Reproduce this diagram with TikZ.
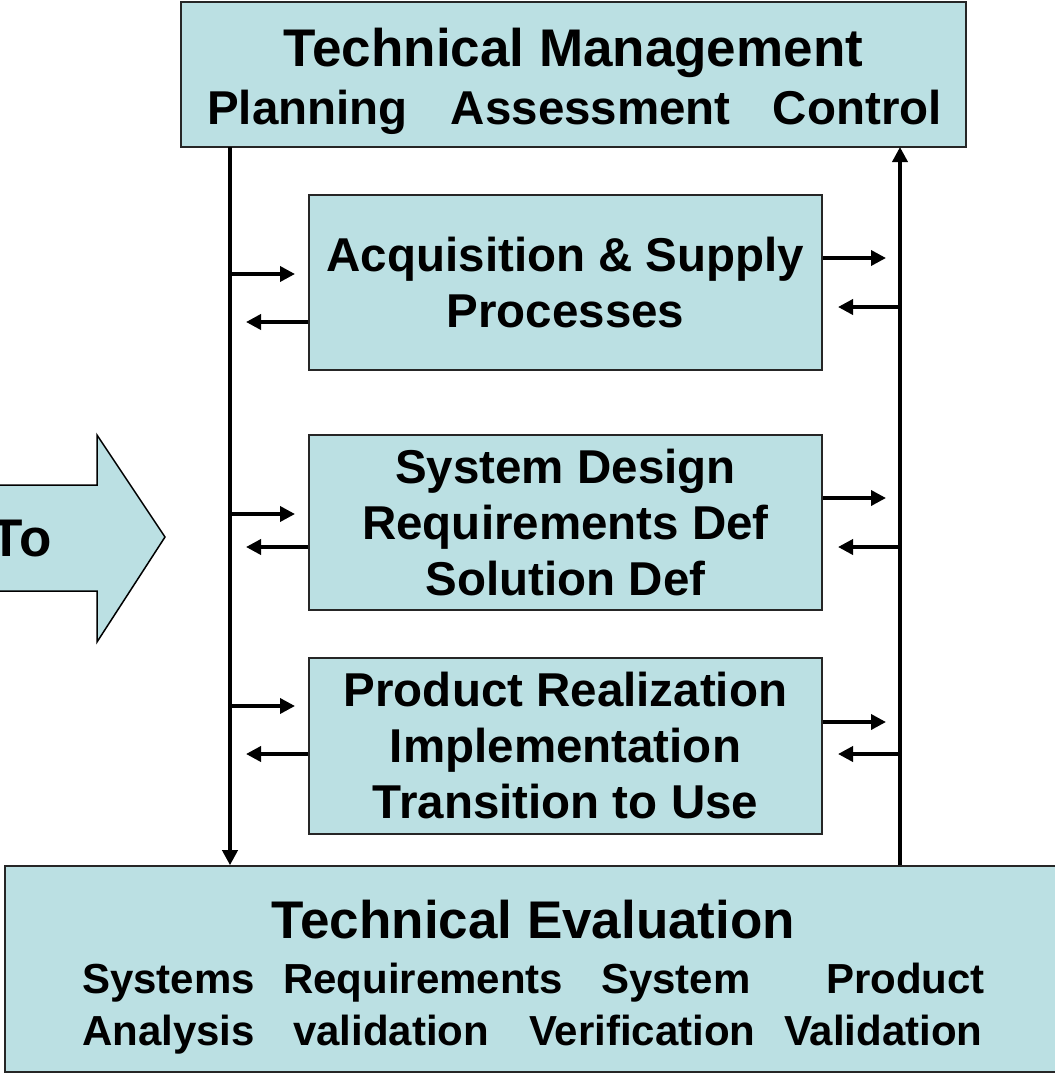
\documentclass[tikz,border=0pt]{standalone}
\usepackage{fontspec}
\setmainfont{Liberation Sans}
\usetikzlibrary{arrows.meta}
\definecolor{boxfill}{HTML}{BBE0E3}
\begin{document}
\begin{tikzpicture}[x=1pt,y=-1pt,
  box/.style={draw=black!85,line width=1.6pt,fill=boxfill,inner sep=0pt},
  proc/.style={box,minimum width=513pt,font=\bfseries\fontsize{47.5}{56}\selectfont,align=center},
  conn/.style={line width=3.6pt,-{Triangle[length=15pt,width=15pt]}},
  big/.style={font=\bfseries\fontsize{53}{60}\selectfont,inner sep=0pt},
  mid/.style={font=\bfseries\fontsize{47.5}{56}\selectfont,inner sep=0pt},
  small/.style={font=\bfseries\fontsize{42}{50}\selectfont,inner sep=0pt,anchor=base west}]
\useasboundingbox (0,0) rectangle (1055,1074);
\clip (0,0) rectangle (1055,1074);
% big arrow "To"
\draw[fill=boxfill,draw=black,line width=1.5pt] (-20,485) -- (97,485) -- (97,435) -- (165,537) -- (97,642) -- (97,591) -- (-20,591) -- cycle;
\node[big,anchor=base east] (to) at (52,556) {To};
% top box
\node[box,minimum width=785pt,minimum height=145pt] (tm) at (573.5,74.5) {};
\node[big,anchor=base] (tmt) at (573.5,66) {Technical Management};
\node[mid,anchor=base west] (tms) at (207,124) {Planning\hspace{30pt} Assessment\hspace{29pt} Control};
% process boxes
\node[proc,minimum height=175pt] (a) at (565.5,282.5) {Acquisition \& Supply\\Processes};
\node[proc,minimum height=175pt] (b) at (565.5,522.5) {System Design\\Requirements Def\\Solution Def};
\node[proc,minimum height=176pt] (c) at (565.5,746) {Product Realization\\Implementation\\Transition to Use};
% bottom box
\node[box,minimum width=1060pt,minimum height=206pt] (te) at (535,969) {};
\node[big,anchor=base] (tet) at (533.5,938) {Technical Evaluation};
\node[small] (w1) at (82,993) {Systems};
\node[small] (w2) at (283,993) {Requirements};
\node[small] (w3) at (601,993) {System};
\node[small] (w4) at (826,993) {Product};
\node[small] (w5) at (82,1045) {Analysis};
\node[small] (w6) at (293,1045) {validation};
\node[small] (w7) at (529,1045) {Verification};
\node[small] (w8) at (784,1045) {Validation};
% vertical lines
\coordinate (ltop) at (230,147);
\coordinate (rtop) at (900,147);
\draw[conn] (ltop) -- (ltop |- te.north);
\draw[conn] (rtop |- te.north) -- (rtop);
% left side arrows
\draw[conn] (230,274) -- (295,274);
\draw[conn] (a.west |- 0,322) -- (246,322);
\draw[conn] (230,514) -- (295,514);
\draw[conn] (b.west |- 0,547) -- (246,547);
\draw[conn] (230,706) -- (295,706);
\draw[conn] (c.west |- 0,754) -- (246,754);
% right side arrows
\draw[conn] (a.east |- 0,258) -- (886,258);
\draw[conn] (900,307) -- (838,307);
\draw[conn] (b.east |- 0,498) -- (886,498);
\draw[conn] (900,547) -- (838,547);
\draw[conn] (c.east |- 0,722) -- (886,722);
\draw[conn] (900,754) -- (838,754);
\end{tikzpicture}
\end{document}
